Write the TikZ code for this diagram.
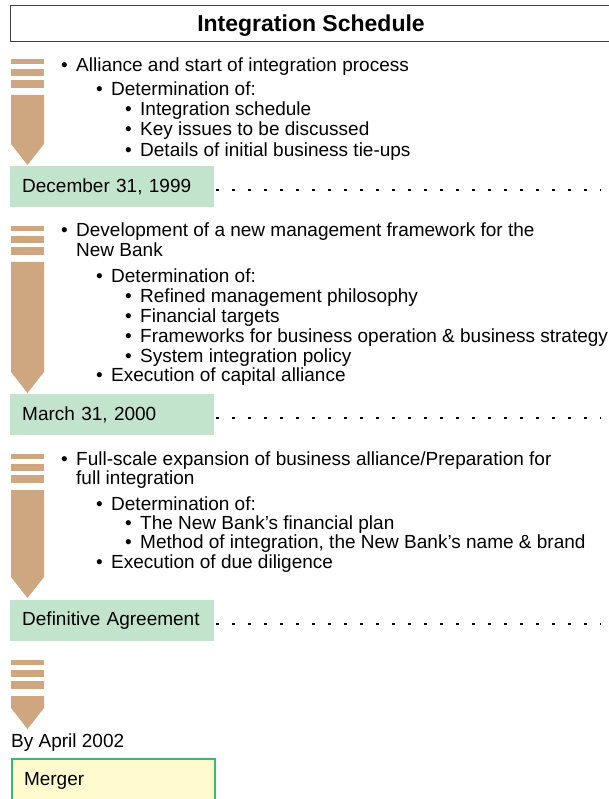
\documentclass[tikz,border=0pt]{standalone}
\usepackage{fontspec}
\setmainfont{Liberation Sans}
\usepackage{tikz}

\definecolor{pencil}{RGB}{206,167,128}
\definecolor{mint}{RGB}{195,228,204}
\definecolor{cream}{RGB}{255,251,206}
\definecolor{leaf}{RGB}{60,184,120}

\tikzset{
	item/.style={anchor=base west, inner sep=0pt},
	datebox/.style={fill=mint, anchor=north west, text width=180pt, align=left,
		inner xsep=12pt, inner ysep=0pt, minimum height=41pt},
	leader/.style={line width=2.4pt, dash pattern=on 2.4pt off 13.6pt}
}

% tan marker: top of first stripe, end of body
\newcommand\pencilbar[2]{
	\fill[pencil] (11,#1) rectangle (44,#1+5);
	\fill[pencil] (11,#1+10) rectangle (44,#1+17);
	\fill[pencil] (11,#1+21) rectangle (44,#1+29);
	\fill[pencil] (11,#1+36) -- (44,#1+36) -- (44,#2) -- (27.5,#2+21) -- (11,#2) -- cycle;
}
% bullet point: name, x of text, baseline, text
\newcommand\point[4]{
	\node[item] (#1-dot) at (#2-15,#3) {•};
	\node[item] (#1) at (#2,#3) {#4};
}

\begin{document}
\begin{tikzpicture}[x=1pt, y=-1pt, font=\fontsize{19pt}{20pt}\selectfont]
	\useasboundingbox (0,0) rectangle (608,799);
	\coordinate (edge) at (601,0);

	% heading
	\draw[line width=1pt, black!75] (10,6) rectangle (620,42);
	\node[anchor=base, inner sep=0pt, font=\bfseries\fontsize{23pt}{24pt}\selectfont] (head) at (311,32) {Integration Schedule};

	% first stage
	\pencilbar{59}{144}
	\point{a1}{76}{72}{Alliance and start of integration process}
	\point{a2}{111}{96}{Determination of:}
	\point{a3}{140}{116}{Integration schedule}
	\point{a4}{140}{136}{Key issues to be discussed}
	\point{a5}{140}{157}{Details of initial business tie-ups}
	\node[datebox] (dec) at (10,166) {December 31, 1999};
	\draw[leader] ([xshift=2pt, yshift=-3.5pt]dec.east) -- ([yshift=-3.5pt]dec.east -| edge);

	% second stage
	\pencilbar{226}{372}
	\point{b1}{76}{237}{Development of a new management framework for the}
	\node[item] (b1x) at (76,257) {New Bank};
	\point{b2}{111}{282}{Determination of:}
	\point{b3}{140}{302}{Refined management philosophy}
	\point{b4}{140}{322}{Financial targets}
	\point{b5}{140}{342}{Frameworks for business operation \& business strategy}
	\point{b6}{140}{362}{System integration policy}
	\point{b7}{111}{381}{Execution of capital alliance}
	\node[datebox] (mar) at (10,394) {March 31, 2000};
	\draw[leader] ([xshift=2pt, yshift=-3.5pt]mar.east) -- ([yshift=-3.5pt]mar.east -| edge);

	% third stage
	\pencilbar{454}{577}
	\point{c1}{76}{465}{Full-scale expansion of business alliance/Preparation for}
	\node[item] (c1x) at (76,484) {full integration};
	\point{c2}{111}{510}{Determination of:}
	\point{c3}{140}{529}{The New Bank’s financial plan}
	\point{c4}{140}{548}{Method of integration, the New Bank’s name \& brand}
	\point{c5}{111}{568}{Execution of due diligence}
	\node[datebox] (def) at (10,600) {Definitive Agreement};
	\draw[leader] ([xshift=2pt, yshift=-3.5pt]def.east) -- ([yshift=-3.5pt]def.east -| edge);

	% merger
	\pencilbar{660}{708}
	\node[item] (apr) at (11,747) {By April 2002};
	\node[datebox, fill=cream, draw=leaf, line width=2pt, text width=179pt, minimum height=44pt] (mer) at (11,758) {Merger};
\end{tikzpicture}
\end{document}
